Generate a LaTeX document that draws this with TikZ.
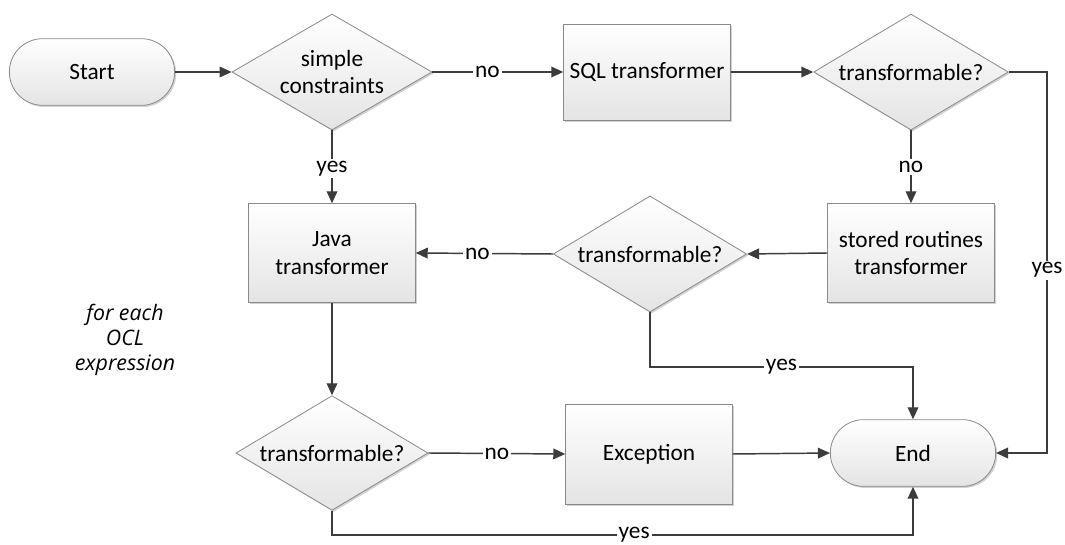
\documentclass[tikz,border=0pt]{standalone}
\usepackage{fontspec}
\setmainfont{Carlito}
\newfontfamily\notefont{Open Sans}
\usetikzlibrary{shapes.geometric,arrows.meta,shadows}
\definecolor{linecol}{HTML}{3C3C3C}
\definecolor{bordercol}{HTML}{8A8A8A}
\definecolor{fillbot}{HTML}{E4E4E4}
\begin{document}
\begin{tikzpicture}[x=0.75pt,y=-0.75pt,
  font=\fontsize{17.5}{20.5}\selectfont,
  shapebase/.style={draw=bordercol, line width=0.6pt, top color=white, bottom color=fillbot,
    drop shadow={shadow xshift=1.2pt, shadow yshift=-1.2pt, opacity=0.18, fill=black}},
  procbox/.style={shapebase, rectangle, inner sep=0pt, minimum width=125pt, minimum height=74pt, align=center},
  term/.style={shapebase, rectangle, rounded corners=25pt, inner sep=0pt, minimum width=124pt, minimum height=50pt},
  decision/.style={shapebase, diamond, inner sep=0pt, minimum width=145pt, minimum height=86pt},
  conn/.style={draw=linecol, line width=1.1pt, -{Triangle[length=9pt,width=8pt]}},
  lbl/.style={fill=white, inner sep=1.5pt, text=black}
]
\useasboundingbox (0,0) rectangle (1065,545);

% nodes
\node[term] (start) at (92,72) {Start};
\node[decision, minimum width=150pt, minimum height=87pt,
      label={[align=center]center:simple\\constraints}] (sc) at (332,72) {};
\node[procbox, minimum height=72pt] (sql) at (647,72) {SQL transformer};
\node[decision, minimum width=146pt, minimum height=87pt,
      label={center:transformable?}] (t1) at (911,72) {};
\node[procbox] (sr) at (911,253) {stored routines\\transformer};
\node[decision, minimum width=145pt, minimum height=87pt,
      label={center:transformable?}] (t2) at (650,254) {};
\node[procbox] (java) at (332,253) {Java\\transformer};
\node[decision, minimum width=144pt, minimum height=86pt,
      label={center:transformable?}] (t3) at (332,453) {};
\node[procbox, minimum height=75pt] (exc) at (649,454) {Exception};
\node[term] (end) at (913,453) {End};
\node[font=\notefont\itshape\fontsize{16}{19}\selectfont, align=center] (note) at (125,340) {for each\\OCL\\expression};

\coordinate (c1) at (1047,453);
\coordinate (c2) at (913,367);
\coordinate (c3) at (913,535);

% connectors
\draw[conn] (start.east) -- (sc.west);
\draw[conn] (sc.east) -- node[lbl, pos=0.42] {no} (sql.west);
\draw[conn] (sql.east) -- (t1.west);
\draw[conn] (t1.south) -- node[lbl] {no} (sr.north);
\draw[conn] (sr.west) -- (t2.east);
\draw[conn] (t2.west) -- node[lbl, pos=0.55] {no} (java.east);
\draw[conn] (sc.south) -- node[lbl, pos=0.52] {yes} (java.north);
\draw[conn] (java.south) -- (t3.north);
\draw[conn] (t3.east) -- node[lbl, pos=0.5] {no} (exc.west);
\draw[conn] (exc.east) -- (end.west);
\draw[conn] (t1.east) -| node[lbl, pos=0.76] {yes} (c1) -- (end.east);
\draw[conn] (t2.south) |- node[lbl, pos=0.75] {yes} (c2) -- (end.north);
\draw[conn] (t3.south) |- node[lbl, pos=0.76] {yes} (c3) -- (end.south);
\end{tikzpicture}
\end{document}
